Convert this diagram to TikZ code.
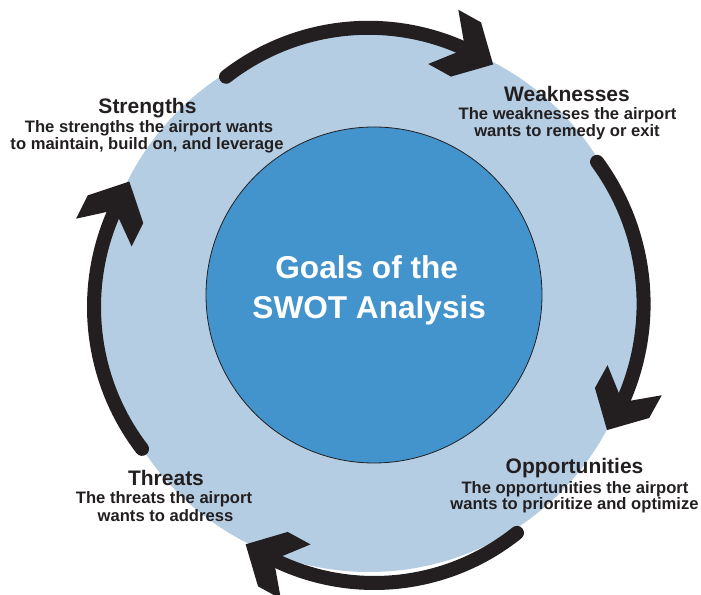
\documentclass[tikz,border=0pt]{standalone}
\usepackage{fontspec}
\setmainfont{Liberation Sans}
\definecolor{ink}{HTML}{231F20}
\definecolor{paleblue}{HTML}{B4CDE3}
\definecolor{coreblue}{HTML}{4394CD}
\newcommand{\hdfont}{\fontsize{21}{24}\selectfont\bfseries}
\newcommand{\sbfont}{\fontsize{16.6}{18}\selectfont\bfseries}
\newcommand{\ttlfont}{\fontsize{31.6}{36}\selectfont\bfseries}
\tikzset{
  hd/.style={font=\hdfont, text=ink, anchor=base, inner sep=0pt},
  sb/.style={font=\sbfont, text=ink, anchor=base, inner sep=0pt},
  ttl/.style={font=\ttlfont, text=white, anchor=base, inner sep=0pt},
  shaft/.style={draw=ink, line width=14pt, line cap=round},
  chev/.pic={\fill[ink] (32,0) -- (1,31) -- (-25,31) -- (0,0) -- (-25,-31) -- (1,-31) -- cycle;}
}
\begin{document}
\begin{tikzpicture}[x=1pt,y=1pt]
\useasboundingbox (0,0) rectangle (701,594);
% circles
\fill[paleblue] (369,292) circle[radius=270pt];
\draw[ink, line width=0.8pt, fill=coreblue] (374,299) circle[radius=168pt];
% title
\node[ttl] (t1) at (366.7,315.7) {Goals of the};
\node[ttl] (t2) at (369.2,275.7) {SWOT Analysis};
% labels
\node[hd] (sh) at (147.5,480.7) {Strengths};
\node[sb] (s1) at (149,461) {The strengths the airport wants};
\node[sb] (s2) at (147,444.7) {to maintain, build on, and leverage};
\node[hd] (wh) at (567,492.3) {Weaknesses};
\node[sb] (w1) at (567.5,474) {The weaknesses the airport};
\node[sb] (w2) at (567,457.3) {wants to remedy or exit};
\node[hd] (oh) at (574.5,120.7) {Opportunities};
\node[sb] (o1) at (575,100.7) {The opportunities the airport};
\node[sb] (o2) at (574.5,84.7) {wants to prioritize and optimize};
\node[hd] (th) at (166,108) {Threats};
\node[sb] (h1) at (164,90) {The threats the airport};
\node[sb] (h2) at (165.5,72.3) {wants to address};
% arrows
\draw[shaft] ([shift={(127.95:231.5pt)}]368.4,334.7) arc[start angle=127.95, end angle=65.3, radius=231.5pt] coordinate (eT);
\draw[shaft] ([shift={(36.3:239.8pt)}]403.8,290.2) arc[start angle=36.3, end angle=-24.2, radius=239.8pt] coordinate (eR);
\draw[shaft] ([shift={(-51.3:228.2pt)}]374.3,239.2) arc[start angle=-51.3, end angle=-116.15, radius=228.2pt] coordinate (eB);
\draw[shaft] ([shift={(-142.6:233.6pt)}]327.6,287) arc[start angle=-142.6, end angle=-204.5, radius=233.6pt] coordinate (eL);
\pic[rotate=-29] at (eT) {chev};
\pic[rotate=-119] at (eR) {chev};
\pic[rotate=-208.6] at (eB) {chev};
\pic[rotate=-296.5] at (eL) {chev};
\end{tikzpicture}
\end{document}
